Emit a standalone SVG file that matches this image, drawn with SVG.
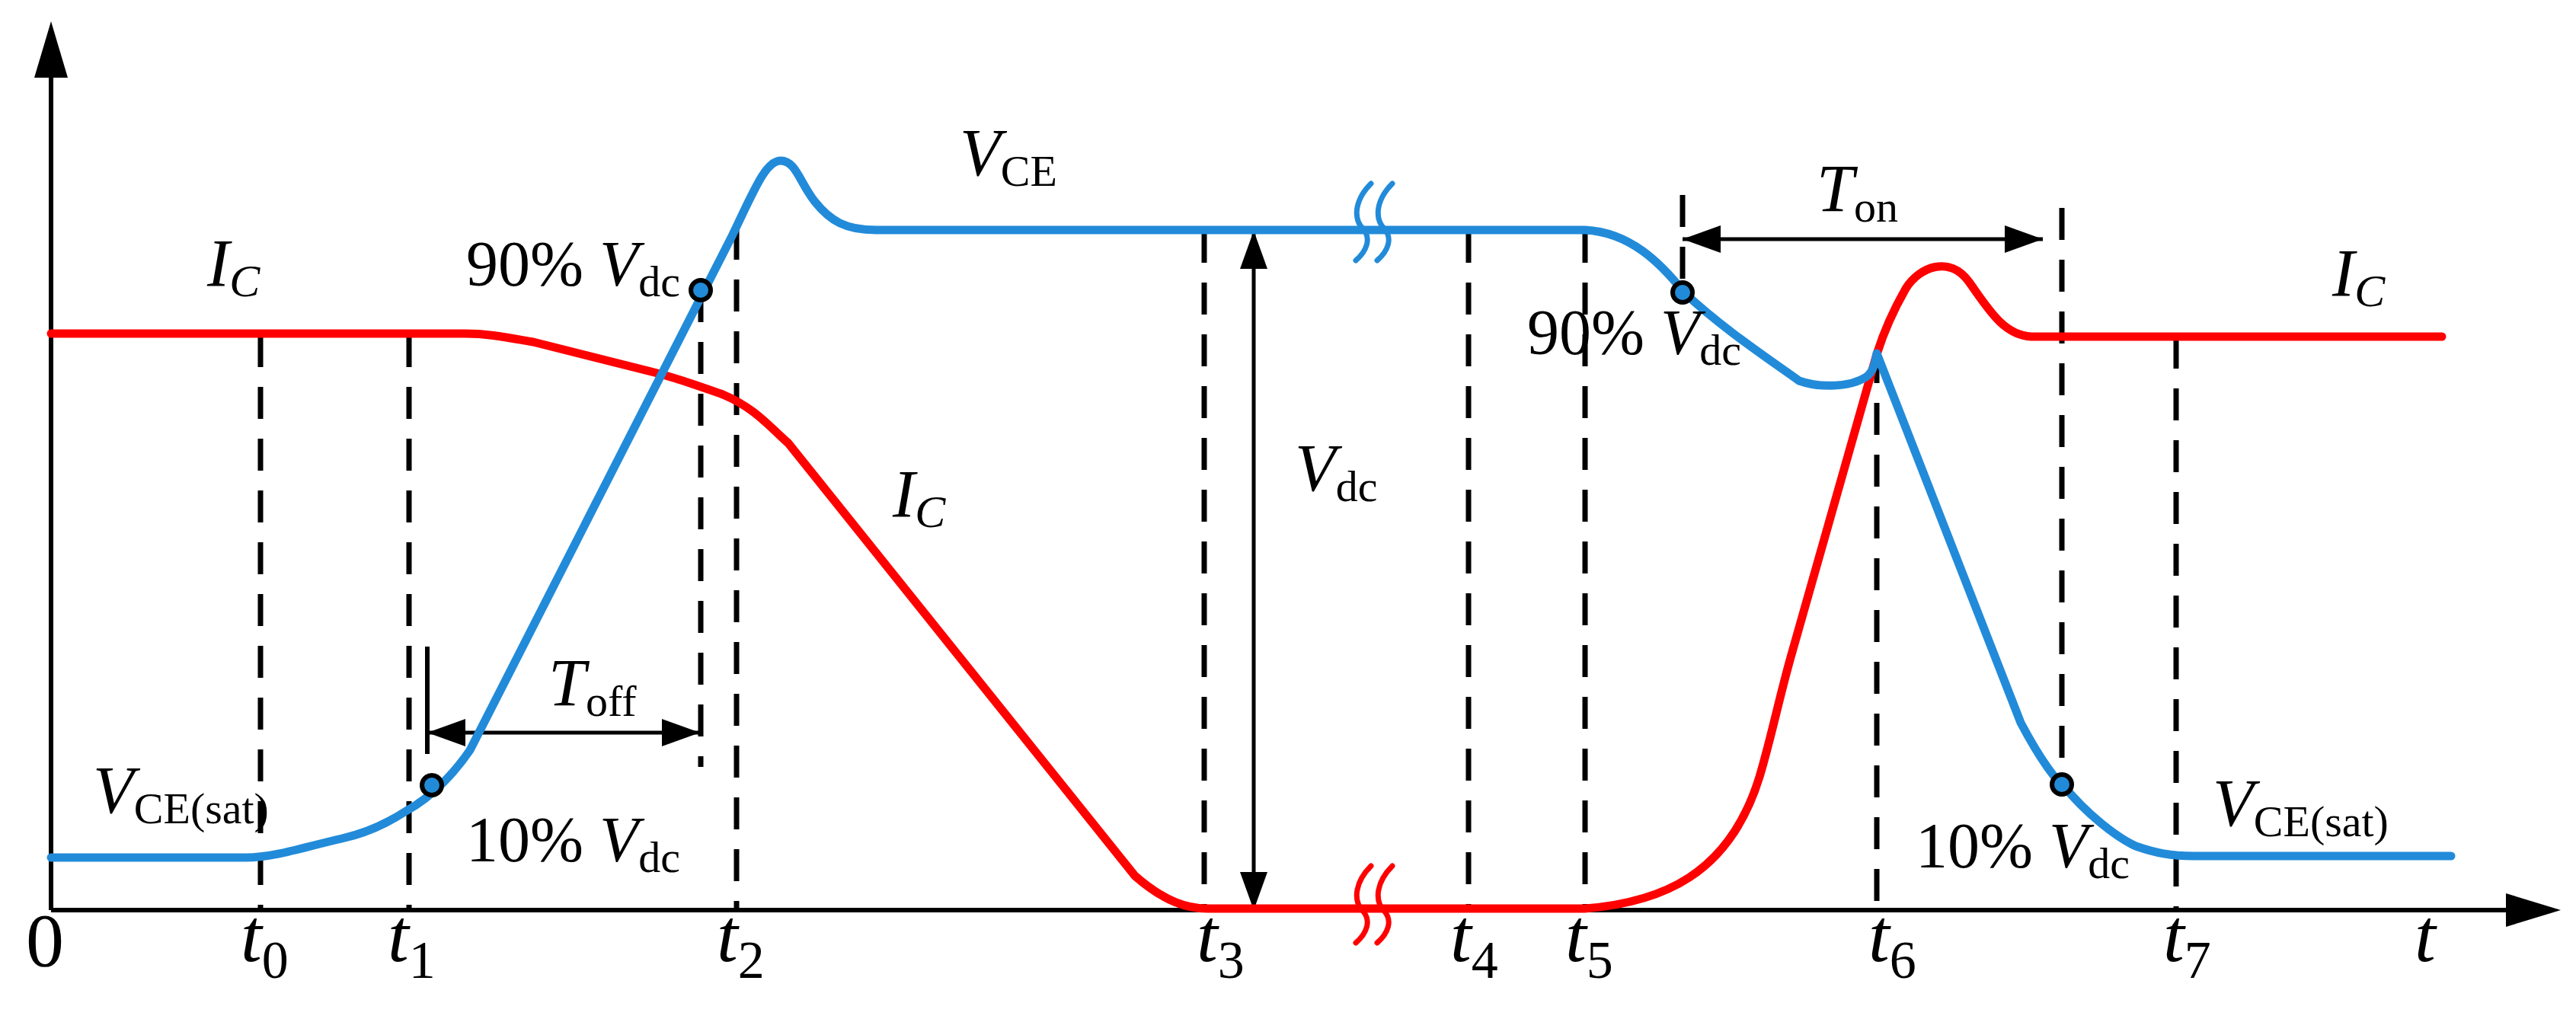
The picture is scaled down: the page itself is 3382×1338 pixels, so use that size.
<svg xmlns="http://www.w3.org/2000/svg" width="3382" height="1338" viewBox="0 0 3382 1338">
<style>
text{font-family:"Liberation Serif","Times New Roman",serif;fill:#000}
.lbl{font-size:88px;font-style:italic}
.num{font-size:84px;font-style:normal}
.sub{font-size:58px;font-style:normal}
.subi{font-size:60px;font-style:italic}
.tl{font-size:100px;font-style:italic}
.ts{font-size:70px;font-style:normal}
.zero{font-size:100px;font-style:normal}
.ax{stroke:#000;stroke-width:6;fill:none}
.dash{stroke:#000;stroke-width:7;stroke-dasharray:42 26;fill:none}
.red{stroke:#ff0000;stroke-width:11;fill:none;stroke-linecap:round;stroke-linejoin:round}
.blue{stroke:#228bd9;stroke-width:11;fill:none;stroke-linecap:round;stroke-linejoin:round}
.brk{stroke-width:7}
.dot{fill:#228bd9;stroke:#000;stroke-width:6}
.arr{stroke:#000;stroke-width:5;fill:none}
</style>
<defs>
<marker id="ab" viewBox="0 0 50 36" refX="50" refY="18" markerWidth="50" markerHeight="36" markerUnits="userSpaceOnUse" orient="auto-start-reverse">
<path d="M0,0 L50,18 L0,36 Z" fill="#000"/>
</marker>
</defs>
<g id="axes">
<line class="ax" x1="67" y1="1195" x2="67" y2="100"/>
<path d="M67,28 L45,102 L89,102 Z"/>
<line class="ax" x1="67" y1="1195" x2="3290" y2="1195"/>
<path d="M3362,1195 L3290,1173 L3290,1217 Z"/>
</g>
<g id="guides">
<line class="dash" x1="342" y1="440" x2="342" y2="1195"/>
<line class="dash" x1="537" y1="440" x2="537" y2="1195"/>
<line class="dash" x1="967" y1="299" x2="967" y2="1195"/>
<line class="dash" x1="920" y1="381" x2="920" y2="1007"/>
<line class="dash" x1="1581" y1="303" x2="1581" y2="1195"/>
<line class="dash" x1="1928" y1="303" x2="1928" y2="1195"/>
<line class="dash" x1="2081" y1="303" x2="2081" y2="1195"/>
<line class="dash" x1="2464" y1="461" x2="2464" y2="1195"/>
<line class="dash" x1="2707" y1="273" x2="2707" y2="1030"/>
<line class="dash" x1="2857" y1="442" x2="2857" y2="1195"/>
<line class="dash" x1="2209" y1="256" x2="2209" y2="384"/>
<line class="ax" x1="561" y1="849" x2="561" y2="990"/>
</g>
<g id="connectors">
<line class="arr" x1="561" y1="962" x2="919" y2="962" marker-start="url(#ab)" marker-end="url(#ab)"/>
<line class="arr" x1="2209" y1="314" x2="2682" y2="314" marker-start="url(#ab)" marker-end="url(#ab)"/>
<line class="arr" x1="1646" y1="303" x2="1646" y2="1195" marker-start="url(#ab)" marker-end="url(#ab)"/>
</g>
<g id="ic-curve">
<path class="red" d="M67,438 L610,438 C640,438 660,442 700,449 L863,490 C900,500 920,508 949,518 C990,535 1010,560 1035,582 L1490,1150 C1530,1185 1560,1193 1585,1193 L2081,1193 C2180,1185 2270,1150 2310,1020 C2325,970 2335,920 2351,863 L2464,465 C2475,430 2490,400 2502,379 C2520,350 2560,335 2585,370 C2610,405 2630,440 2667,442 L3206,442"/>
<path class="red brk" d="M1800,1137 C1780,1157 1775,1182 1790,1197 C1800,1209 1795,1225 1780,1238 M1828,1137 C1808,1157 1803,1182 1818,1197 C1828,1209 1823,1225 1808,1238"/>
</g>
<g id="vce-curve">
<path class="blue" d="M67,1126 L323,1126 C360,1126 400,1112 449,1101 C480,1094 510,1080 533,1065 C570,1045 600,1010 617,985 L961,310 C990,250 1005,211 1025,211 C1045,211 1050,240 1070,265 C1090,290 1110,302 1150,302 L2081,302 C2140,305 2180,345 2211,384 C2260,430 2320,470 2362,500 C2390,510 2430,508 2450,495 C2460,488 2462,475 2464,464 L2653,949 C2680,1000 2700,1025 2707,1029 C2740,1070 2780,1100 2804,1111 C2830,1120 2850,1124 2880,1124 L3218,1124"/>
<path class="blue brk" d="M1800,241 C1780,261 1775,286 1790,301 C1800,313 1795,329 1780,342 M1828,241 C1808,261 1803,286 1818,301 C1828,313 1823,329 1808,342"/>
</g>
<g id="markers">
<circle class="dot" cx="920" cy="381" r="13"/>
<circle class="dot" cx="567" cy="1031" r="13"/>
<circle class="dot" cx="2209" cy="384" r="13"/>
<circle class="dot" cx="2707" cy="1030" r="13"/>
</g>
<g id="labels">
<text x="272" y="375" class="lbl">I<tspan class="subi" dy="14">C</tspan></text>
<text x="3062" y="388" class="lbl">I<tspan class="subi" dy="14">C</tspan></text>
<text x="1172" y="678" class="lbl">I<tspan class="subi" dy="14">C</tspan></text>
<text x="1260" y="230" class="lbl">V<tspan class="sub" dy="14">CE</tspan></text>
<text x="1700" y="644" class="lbl">V<tspan class="sub" dy="14">dc</tspan></text>
<text x="612" y="375" class="num">90% <tspan font-style="italic">V</tspan><tspan class="sub" dy="14">dc</tspan></text>
<text x="2005" y="465" class="num">90% <tspan font-style="italic">V</tspan><tspan class="sub" dy="14">dc</tspan></text>
<text x="612" y="1131" class="num">10% <tspan font-style="italic">V</tspan><tspan class="sub" dy="14">dc</tspan></text>
<text x="2515" y="1139" class="num">10% <tspan font-style="italic">V</tspan><tspan class="sub" dy="14">dc</tspan></text>
<text x="720" y="926" class="lbl">T<tspan class="sub" dy="14">off</tspan></text>
<text x="2385" y="277" class="lbl">T<tspan class="sub" dy="14">on</tspan></text>
<text x="122" y="1067" class="lbl">V<tspan class="sub" dy="14">CE(sat)</tspan></text>
<text x="2905" y="1084" class="lbl">V<tspan class="sub" dy="14">CE(sat)</tspan></text>
<text x="34" y="1268" class="zero">0</text>
<text x="316" y="1262" class="tl">t<tspan class="ts" dy="22">0</tspan></text>
<text x="509" y="1262" class="tl">t<tspan class="ts" dy="22">1</tspan></text>
<text x="941" y="1262" class="tl">t<tspan class="ts" dy="22">2</tspan></text>
<text x="1571" y="1262" class="tl">t<tspan class="ts" dy="22">3</tspan></text>
<text x="1904" y="1262" class="tl">t<tspan class="ts" dy="22">4</tspan></text>
<text x="2055" y="1262" class="tl">t<tspan class="ts" dy="22">5</tspan></text>
<text x="2453" y="1262" class="tl">t<tspan class="ts" dy="22">6</tspan></text>
<text x="2840" y="1262" class="tl">t<tspan class="ts" dy="22">7</tspan></text>
<text x="3170" y="1262" class="tl">t</text>
</g>
</svg>
